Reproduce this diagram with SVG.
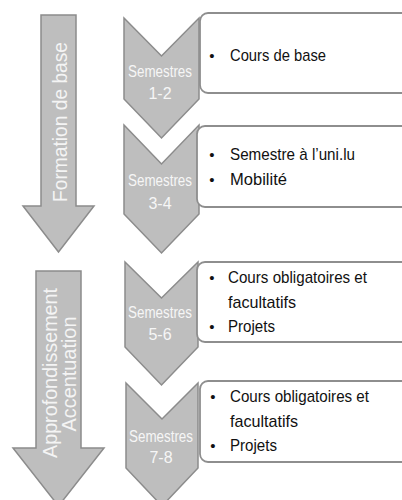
<svg xmlns="http://www.w3.org/2000/svg" width="402" height="500" viewBox="0 0 402 500">
  <style>
    .shape { fill: #bebebe; stroke: #8c8c8c; stroke-width: 1.5; stroke-linejoin: miter; }
    .box { fill: #ffffff; stroke: #8e8e8e; stroke-width: 1.8; }
    .phase { font-family: "Liberation Sans Narrow", "Liberation Sans", Arial, sans-serif; font-size: 20px; fill: #f4f4f4; text-anchor: middle; }
    .sem { font-family: "Liberation Sans Narrow", "Liberation Sans", Arial, sans-serif; font-size: 16px; fill: #f6f6f6; text-anchor: middle; }
    .item { font-family: "Liberation Sans Narrow", "Liberation Sans", Arial, sans-serif; font-size: 17px; fill: #111111; }
    .dot { font-family: "Liberation Sans", Arial, sans-serif; font-size: 15px; fill: #111111; text-anchor: middle; }
  </style>
  <rect x="0" y="0" width="402" height="500" fill="#ffffff"/>

  <!-- phase arrows -->
  <g id="phase-base">
    <polygon class="shape" points="41,15 76,15 76,206 94,206 58.5,252 23,206 41,206"/>
    <text class="phase" transform="translate(67,122) rotate(-90)" textLength="160" lengthAdjust="spacingAndGlyphs">Formation de base</text>
  </g>
  <g id="phase-approfondissement">
    <polygon class="shape" points="36,271 81,271 81,448 104,448 58.5,506 13,448 36,448"/>
    <text class="phase" transform="translate(57,373) rotate(-90)" textLength="170" lengthAdjust="spacingAndGlyphs">Approfondissement</text>
    <text class="phase" transform="translate(76,374) rotate(-90)" textLength="115" lengthAdjust="spacingAndGlyphs">Accentuation</text>
  </g>

  <!-- semester chevrons with their content boxes -->
  <g id="sem-1-2">
    <polygon class="shape" points="124,18 161.5,56 199,18 199,99 161.5,138 124,99"/>
    <text class="sem" x="160" y="77" textLength="64" lengthAdjust="spacingAndGlyphs">Semestres</text>
    <text class="sem" x="160" y="99">1-2</text>
    <rect class="box" x="200" y="13" width="220" height="80" rx="8"/>
    <text class="dot" x="212" y="61">•</text>
    <text class="item" x="230" y="61" textLength="96" lengthAdjust="spacingAndGlyphs">Cours de base</text>
  </g>

  <g id="sem-3-4">
    <polygon class="shape" points="124,125 161.5,164 199,125 199,214 161.5,253 124,214"/>
    <text class="sem" x="160" y="186" textLength="64" lengthAdjust="spacingAndGlyphs">Semestres</text>
    <text class="sem" x="160" y="209">3-4</text>
    <rect class="box" x="197" y="126" width="220" height="81" rx="8"/>
    <text class="dot" x="212" y="160">•</text>
    <text class="item" x="230" y="160" textLength="125" lengthAdjust="spacingAndGlyphs">Semestre à l’uni.lu</text>
    <text class="dot" x="212" y="185">•</text>
    <text class="item" x="230" y="185" textLength="57" lengthAdjust="spacingAndGlyphs">Mobilité</text>
  </g>

  <g id="sem-5-6">
    <polygon class="shape" points="125,262 161.5,298 198,262 198,347 161.5,385 125,347"/>
    <text class="sem" x="160" y="318" textLength="64" lengthAdjust="spacingAndGlyphs">Semestres</text>
    <text class="sem" x="160" y="340">5-6</text>
    <rect class="box" x="197" y="262" width="220" height="80" rx="8"/>
    <text class="dot" x="212" y="283">•</text>
    <text class="item" x="228" y="283" textLength="139" lengthAdjust="spacingAndGlyphs">Cours obligatoires et</text>
    <text class="item" x="228" y="308" textLength="68" lengthAdjust="spacingAndGlyphs">facultatifs</text>
    <text class="dot" x="212" y="332">•</text>
    <text class="item" x="228" y="332" textLength="47" lengthAdjust="spacingAndGlyphs">Projets</text>
  </g>

  <g id="sem-7-8">
    <polygon class="shape" points="126,383 162,419 198,383 198,468 162,506 126,468"/>
    <text class="sem" x="161" y="442" textLength="64" lengthAdjust="spacingAndGlyphs">Semestres</text>
    <text class="sem" x="161" y="463">7-8</text>
    <rect class="box" x="200" y="381" width="220" height="81" rx="8"/>
    <text class="dot" x="213" y="402">•</text>
    <text class="item" x="230" y="402" textLength="139" lengthAdjust="spacingAndGlyphs">Cours obligatoires et</text>
    <text class="item" x="230" y="427" textLength="68" lengthAdjust="spacingAndGlyphs">facultatifs</text>
    <text class="dot" x="213" y="451">•</text>
    <text class="item" x="230" y="451" textLength="47" lengthAdjust="spacingAndGlyphs">Projets</text>
  </g>
</svg>
